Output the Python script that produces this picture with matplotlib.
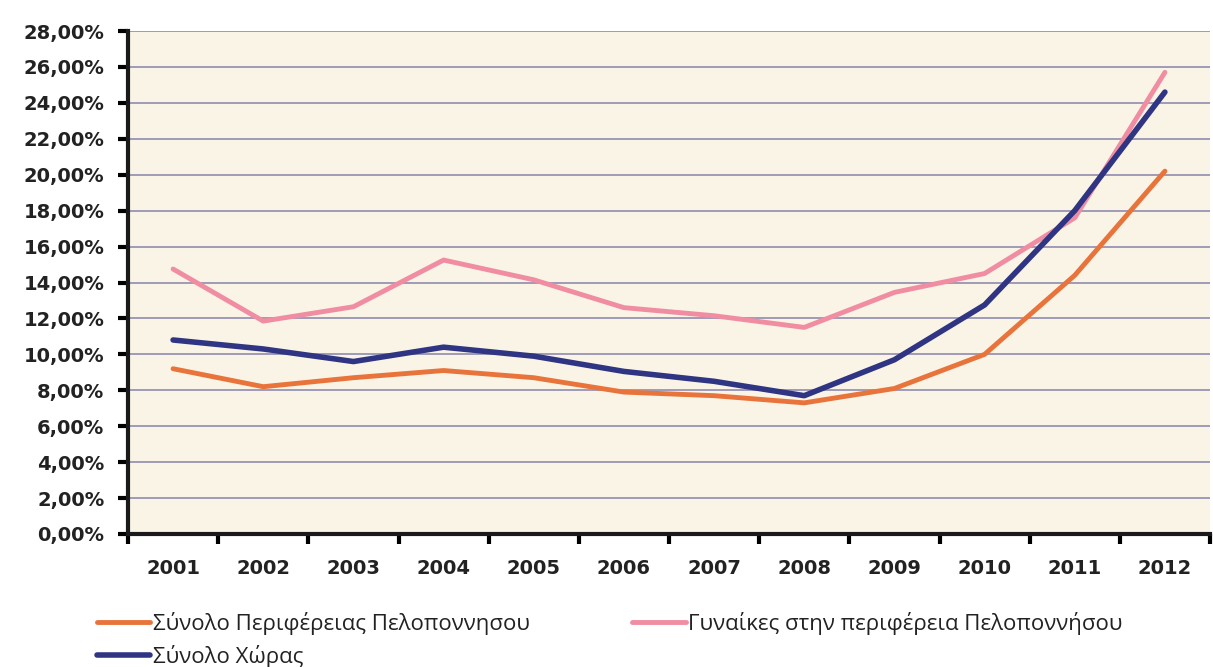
import matplotlib.pyplot as plt
import numpy as np

years = [2001, 2002, 2003, 2004, 2005, 2006, 2007, 2008, 2009, 2010, 2011, 2012]
peloponnisos = [9.2, 8.2, 8.7, 9.1, 8.7, 7.9, 7.7, 7.3, 8.1, 10.0, 14.4, 20.2]
gynaikes = [14.75, 11.85, 12.65, 15.25, 14.15, 12.6, 12.15, 11.5, 13.45, 14.5, 17.6, 25.7]
xora = [10.8, 10.3, 9.6, 10.4, 9.9, 9.05, 8.5, 7.7, 9.7, 12.75, 18.0, 24.6]

labels = ["Σύνολο Περιφέρειας Πελοποννησου",
          "Γυναίκες στην περιφέρεια Πελοποννήσου",
          "Σύνολο Χώρας"]
colors = ["#e8743b", "#f08da2", "#2f3582"]

fig = plt.figure(figsize=(12.13, 6.67), dpi=100)
ax = fig.add_axes([128/1213, 1-534/667, 1082/1213, 503/667])
ax.set_facecolor("#faf4e7")

l1, = ax.plot(years, peloponnisos, color=colors[0], lw=3.5, solid_capstyle="round", zorder=3)
l2, = ax.plot(years, gynaikes, color=colors[1], lw=3.5, solid_capstyle="round", zorder=3)
l3, = ax.plot(years, xora, color=colors[2], lw=4, solid_capstyle="round", zorder=4)

ax.set_xlim(2000.5, 2012.5)
ax.set_ylim(0, 28)

yt = np.arange(0, 29, 2)
ax.set_yticks(yt)
ax.set_yticklabels([f"{v:.2f}%".replace(".", ",") for v in yt],
                   fontsize=14, fontweight="bold", color="#222222")
ax.set_xticks(years)
ax.set_xticklabels([str(y) for y in years], fontsize=14, fontweight="bold", color="#222222")
ax.set_xticks(np.arange(2000.5, 2013, 1), minor=True)
ax.tick_params(axis="x", which="major", length=0, pad=18)
ax.tick_params(axis="x", which="minor", length=7, width=3, direction="out")
ax.tick_params(axis="y", length=7, width=3, direction="out", pad=10)

ax.grid(axis="y", color="#9894b4", lw=1.3, zorder=1)
ax.set_axisbelow(True)
for s in ["top", "right"]:
    ax.spines[s].set_visible(False)
for s in ["left", "bottom"]:
    ax.spines[s].set_linewidth(3)
    ax.spines[s].set_color("#1a1a1a")
    ax.spines[s].set_zorder(5)

fig.legend([l1, l3, l2], [labels[0], labels[2], labels[1]], ncol=2,
           loc="upper left", bbox_to_anchor=(97/1213, 1-612/667),
           frameon=False, prop={"family": ["Open Sans", "DejaVu Sans"], "size": 16},
           handlelength=2.4, handletextpad=0.12, columnspacing=4.6,
           labelspacing=0.45, borderpad=0, borderaxespad=0, labelcolor="#222222")

fig.savefig("out.png", dpi=100)
